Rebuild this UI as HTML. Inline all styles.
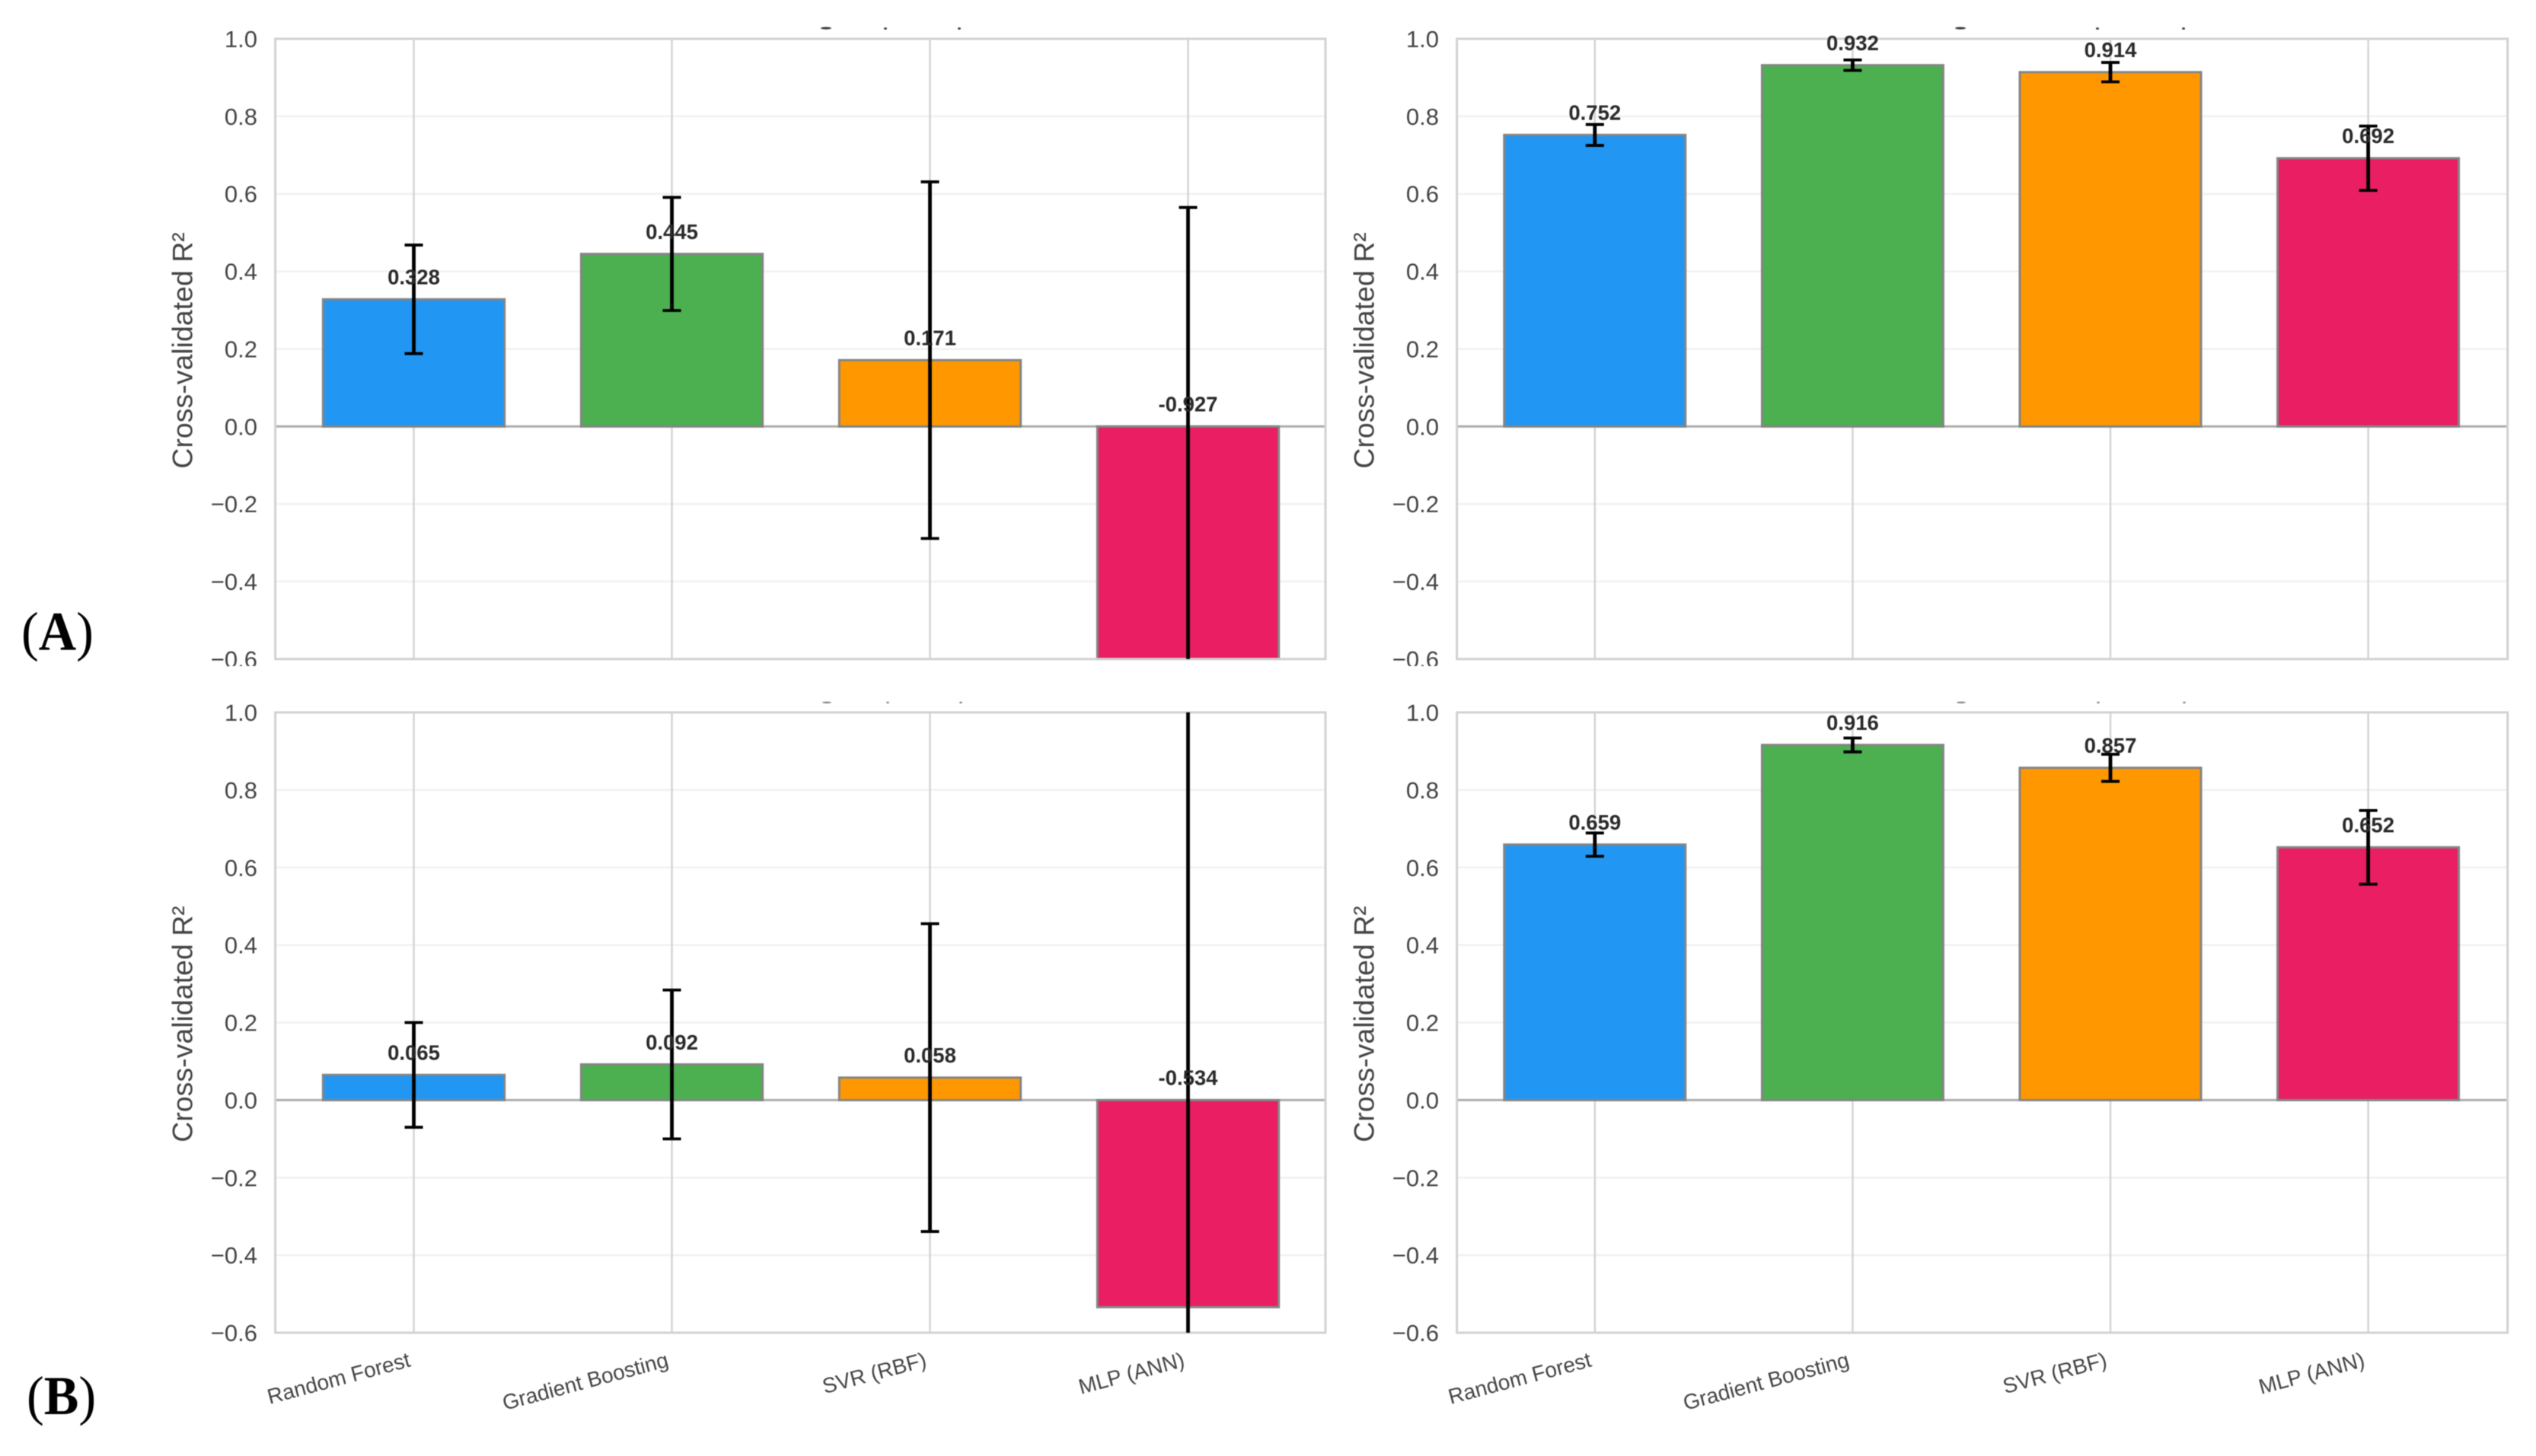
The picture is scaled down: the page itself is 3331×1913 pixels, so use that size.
<!DOCTYPE html>
<html lang="en">
<head>
<meta charset="utf-8">
<title>Cross-validated R² model comparison</title>
<style>
html,body{margin:0;padding:0;background:#fff;width:3331px;height:1913px;overflow:hidden}
svg{display:block;filter:blur(0.6px)}
text{font-family:"Liberation Sans",Arial,sans-serif}
</style>
</head>
<body>
<svg id="chart" xmlns="http://www.w3.org/2000/svg" width="3331" height="1913" viewBox="0 0 3331 1913">
  <rect x="0" y="0" width="3331" height="1913" fill="#ffffff"/>
</svg>
<script>
const categories = ['Random Forest', 'Gradient Boosting', 'SVR (RBF)', 'MLP (ANN)'];
const barColors = ['#2196F3', '#4CAF50', '#FF9800', '#E91E63'];
const yTicks = [1.0, 0.8, 0.6, 0.4, 0.2, 0.0, -0.2, -0.4, -0.6];

const topLeftValues = [0.328, 0.445, 0.171, -0.927];
const topLeftErrors = [0.14, 0.146, 0.46, 1.492];
const topRightValues = [0.752, 0.932, 0.914, 0.692];
const topRightErrors = [0.027, 0.0135, 0.025, 0.083];
const bottomLeftValues = [0.065, 0.092, 0.058, -0.534];
const bottomLeftErrors = [0.135, 0.192, 0.397, 1.7];
const bottomRightValues = [0.659, 0.916, 0.857, 0.652];
const bottomRightErrors = [0.03, 0.018, 0.035, 0.095];

const NS = 'http://www.w3.org/2000/svg';
const svg = document.getElementById('chart');

function make(tag, attrs, parent, content) {
  const el = document.createElementNS(NS, tag);
  for (const k in attrs) el.setAttribute(k, attrs[k]);
  if (content !== undefined) el.textContent = content;
  parent.appendChild(el);
  return el;
}

function drawPanel(id, cfg, values, errors) {
  const xScale = i => cfg.left + cfg.firstTick + i * cfg.step;
  const yScale = v => cfg.top + (1 - v) * cfg.unit;
  const plotWidth = cfg.right - cfg.left;
  const plotBottom = yScale(-0.6);

  const group = make('g', {}, svg);
  
  

  yTicks.forEach(t => {
    if (t === 1 || t === -0.6 || t === 0) return;
    const line = make('line', { x1: cfg.left, x2: cfg.right, y1: yScale(t), y2: yScale(t), stroke: '#f1f1f1', 'stroke-width': 2.5 }, group);
    
    
  });

  categories.forEach((c, i) => {
    const line = make('line', { x1: xScale(i), x2: xScale(i), y1: cfg.top, y2: plotBottom, stroke: '#d4d4d4', 'stroke-width': 2.5 }, group);
    
    
  });

  const zero = make('line', { x1: cfg.left, x2: cfg.right, y1: yScale(0), y2: yScale(0), stroke: '#adadad', 'stroke-width': 3 }, group);
  
  

  const bars = make('g', {}, group);
  
  
  const barWidth = cfg.step * 0.703;
  values.forEach((v, i) => {
    const y0 = Math.max(yScale(Math.max(v, 0)), cfg.top);
    const y1 = Math.min(yScale(Math.min(v, 0)), plotBottom);
    const bar = make('rect', { x: xScale(i) - barWidth / 2, y: y0, width: barWidth, height: Math.max(y1 - y0, 0), fill: barColors[i], stroke: '#858585', 'stroke-width': 3 }, bars);
    
    
  });

  const spine = make('rect', { x: cfg.left, y: cfg.top, width: plotWidth, height: plotBottom - cfg.top, fill: 'none', stroke: '#d2d2d2', 'stroke-width': 3 }, group);
  
  

  const errs = make('g', { stroke: '#000', fill: 'none' }, group);
  
  
  values.forEach((v, i) => {
    const cx = xScale(i);
    const hi = yScale(v + errors[i]);
    const lo = yScale(v - errors[i]);
    const stem = make('line', { x1: cx, x2: cx, y1: Math.max(hi, cfg.top), y2: Math.min(lo, plotBottom), 'stroke-width': 4.8 }, errs);
    
    
    if (hi >= cfg.top) {
      const capTop = make('line', { x1: cx - 12, x2: cx + 12, y1: hi, y2: hi, 'stroke-width': 3.8 }, errs);
      
      
    }
    if (lo <= plotBottom) {
      const capBottom = make('line', { x1: cx - 12, x2: cx + 12, y1: lo, y2: lo, 'stroke-width': 3.8 }, errs);
      
      
    }
  });

  values.forEach((v, i) => {
    const label = make('text', { x: xScale(i), y: yScale(Math.max(v, 0)) - 19.7, 'text-anchor': 'middle', 'font-size': 27.5, 'font-weight': 700, fill: '#2a2a2a' }, group, v.toFixed(3));
    
    
  });

  yTicks.forEach(t => {
    const text = (t < 0 ? '\u2212' : '') + Math.abs(t).toFixed(1);
    const tick = make('text', { x: cfg.left - 23.6, y: yScale(t) + 11, 'text-anchor': 'end', 'font-size': 31, fill: '#444444' }, group, text);
    
    
  });

  const labelX = cfg.left - 109;
  const labelY = (cfg.top + plotBottom) / 2 + 2;
  const yTitle = make('text', { x: labelX, y: labelY, 'text-anchor': 'middle', 'font-size': 37.5, fill: '#444444', transform: 'rotate(-90 ' + labelX + ' ' + labelY + ')' }, group, 'Cross-validated R\u00B2');
  
  

  if (cfg.showCategories) {
    categories.forEach((c, i) => {
      const px = xScale(i) - 3;
      const py = plotBottom + 44;
      const xLabel = make('text', { x: px, y: py, 'text-anchor': 'end', 'font-size': 28, fill: '#444444', transform: 'rotate(-15 ' + px + ' ' + py + ')' }, group, c);
      
      
    });
  }

  cfg.fragments.forEach(f => {
    const mark = make('ellipse', { cx: f[0], cy: f[1], rx: f[2], ry: f[3], fill: cfg.fragmentColor }, group);
    
    
  });
}

const leftColumn = { left: 361.6, right: 1741, firstTick: 181.9, step: 339 };
const rightColumn = { left: 1913.6, right: 3293.7, firstTick: 181.2, step: 338.6 };
const topRow = { top: 51, unit: 509.3, showCategories: false, fragmentColor: '#444444' };
const bottomRow = { top: 936, unit: 509.4, showCategories: true, fragmentColor: '#888888' };

drawPanel('top-left', Object.assign({}, leftColumn, topRow, { fragments: [[1085, 37, 7, 1.6], [1163, 37.5, 2, 1.5], [1260, 37.5, 2, 1.5]] }), topLeftValues, topLeftErrors);
drawPanel('top-right', Object.assign({}, rightColumn, topRow, { fragments: [[2575, 37, 7, 1.6], [2755, 37.5, 2, 1.5], [2868, 37.5, 2, 1.5]] }), topRightValues, topRightErrors);

const rowMask = make('rect', { x: 300, y: 875, width: 3031, height: 45, fill: '#ffffff' }, svg);



drawPanel('bottom-left', Object.assign({}, leftColumn, bottomRow, { fragments: [[1086, 923, 6, 1.3], [1166, 923, 1.8, 1.3], [1262, 923, 1.8, 1.3]] }), bottomLeftValues, bottomLeftErrors);
drawPanel('bottom-right', Object.assign({}, rightColumn, bottomRow, { fragments: [[2576, 923, 6, 1.3], [2756, 923, 1.8, 1.3], [2869, 923, 1.8, 1.3]] }), bottomRightValues, bottomRightErrors);

function panelTag(name, x, y, letter) {
  const tag = make('text', { x: 0, y: 0, 'font-size': 72, fill: '#000000', style: 'font-family:"Liberation Serif",serif', transform: 'translate(' + x + ' ' + y + ') scale(0.95 1)' }, svg);
  
  
  tag.appendChild(document.createTextNode('('));
  make('tspan', { 'font-weight': 700 }, tag, letter);
  tag.appendChild(document.createTextNode(')'));
}
panelTag('panel-label-a', 28, 854, 'A');
panelTag('panel-label-b', 35, 1858, 'B');
</script>
</body>
</html>
